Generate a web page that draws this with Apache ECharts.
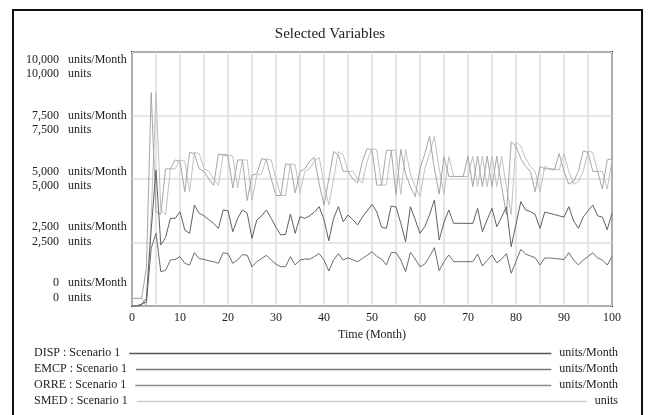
<!DOCTYPE html>
<html><head><meta charset="utf-8">
<script src="https://cdn.jsdelivr.net/npm/echarts@6/dist/echarts.min.js"></script>
<style>html,body{margin:0;padding:0;background:#fff}#c{width:649px;height:415px}</style>
</head><body><div id="c"></div>
<script>
const chartTitle = 'Selected Variables';
const xAxisName = 'Time (Month)';
const months = []; for (let t = 0; t <= 100; t++) months.push(t);
const xTickLabels = [0, 10, 20, 30, 40, 50, 60, 70, 80, 90, 100];
const yTickValues = [0, 2500, 5000, 7500, 10000];
const seriesNames = ['DISP', 'EMCP', 'ORRE', 'SMED'];
const seriesUnits = ['units/Month', 'units/Month', 'units/Month', 'units'];
const scenario = 'Scenario 1';

const DISP = [0,0,50,300,3000,5350,2400,2700,3450,3450,3713,2990,2860,3976,3648,3550,3400,3250,3057,3780,3750,2926,3450,3780,3650,2664,3385,3550,3780,3450,3100,2795,2820,3622,2860,3517,3450,3550,3700,3910,3400,2571,3450,3910,3320,3580,3400,3190,3500,3750,4000,3700,3100,3057,3937,3900,3255,2530,3910,3400,2860,3123,3600,4173,2598,3300,3780,3255,3255,3255,3255,3250,3845,2926,3400,3845,3123,3500,3900,2335,3220,4108,3780,3720,3600,3057,3700,3650,3600,3550,3500,3910,3350,3057,3500,3750,3975,3550,3500,3005,3650];
const EMCP = [0,0,80,150,2271,2860,1351,1400,1811,1837,1942,1680,1613,2100,1860,1837,1780,1745,1680,2100,2060,1680,1811,2020,2000,1548,1745,1870,2000,1811,1650,1548,1548,1942,1613,1811,1850,1837,1950,2060,1811,1378,1811,2060,1811,1900,1820,1745,1870,2000,2139,1950,1850,1614,2100,2100,1811,1352,2113,1850,1548,1650,1950,2297,1391,1750,2008,1745,1745,1745,1745,1745,2047,1575,1800,2008,1700,1850,2060,1286,1760,2230,2047,1970,1900,1614,1890,1890,1870,1850,1830,2100,1811,1614,1811,1950,2100,1890,1811,1614,1942];
const ORRE = [300,300,300,1500,8400,3700,3600,5400,5400,5750,5700,4500,6050,6000,5400,5300,5000,4750,5980,5950,5900,4650,5750,5750,4150,5150,5200,5800,5750,5000,4350,4350,5600,5550,4450,5300,5400,5700,5850,4800,3975,5000,6080,5950,5300,5300,5000,4850,5700,6200,6150,4760,4760,6130,6130,4400,6160,5200,4700,4300,5400,6000,6680,5400,4400,5880,5100,5100,5100,5100,5900,4700,5900,4700,5900,4700,5900,4700,3600,6460,6300,5800,5500,5300,4500,5500,5400,5400,5350,6000,5300,4800,4900,5300,6100,6050,5300,5300,4600,5750,5800];
const SMED = [300,300,300,0,3500,8400,3800,3600,5400,5400,5750,5700,4500,6050,6000,5400,5300,5000,4750,5980,5950,5900,4650,5750,5750,4150,5150,5200,5800,5750,5000,4350,4350,5600,5550,4450,5300,5400,5700,5850,4800,3975,5000,6080,5950,5300,5300,5000,4850,5700,6200,6150,4760,4760,6130,6130,4400,6160,5200,4700,4300,5400,6000,6680,5400,4400,5880,5100,5100,5100,5090,5900,4700,5900,4700,5900,4700,5900,4700,3600,6460,6300,5800,5500,5300,4500,5500,5400,5400,5350,6000,5300,4800,4900,5300,6100,6050,5300,5300,4600,5750];
const seriesData = [DISP, EMCP, ORRE, SMED];
const seriesColors = ['#606060', '#6c6c6c', '#a6a6a6', '#c0c0c0'];
const legendColors = ['#555555', '#777777', '#8c8c8c', '#cfcfcf'];

const FONT = '"Liberation Serif", "Times New Roman", serif';
const fmt = v => Number(v).toLocaleString('en-US');

const chart = echarts.init(document.getElementById('c'), null, {renderer: 'canvas'});

const cv = document.createElement('canvas').getContext('2d');
cv.font = '12px ' + FONT;

const legendRowsY = [353, 369, 385, 401];
const legendLeft = 34, legendRight = 618;
const graphics = [
  {type: 'rect', shape: {x: 13, y: 10, width: 629, height: 420}, style: {fill: 'none', stroke: '#111', lineWidth: 2}, silent: true}
];
seriesNames.forEach((n, i) => {
  const label = n + ' : ' + scenario;
  const lw = cv.measureText(label).width;
  const uw = cv.measureText(seriesUnits[i]).width;
  const y = legendRowsY[i];
  graphics.push({type: 'text', x: legendLeft, y: y, style: {text: label, font: '12px ' + FONT, fill: '#222', textVerticalAlign: 'middle', textAlign: 'left'}});
  graphics.push({type: 'line', shape: {x1: legendLeft + lw + 9, y1: y + 0.5, x2: legendRight - uw - 8, y2: y + 0.5}, style: {stroke: legendColors[i], lineWidth: 1.3}});
  graphics.push({type: 'text', x: legendRight, y: y, style: {text: seriesUnits[i], font: '12px ' + FONT, fill: '#222', textVerticalAlign: 'middle', textAlign: 'right'}});
});

const labelText = {fontFamily: FONT, fontSize: 12, color: '#222'};
const numAxis = gi => ({
  gridIndex: gi, type: 'value', position: 'left', offset: 0, min: 0, max: 10000, interval: 2500,
  axisLine: {show: false}, axisTick: {show: false}, splitLine: {show: false},
  axisLabel: Object.assign({margin: 73, align: 'right', showMinLabel: true, showMaxLabel: true,
    formatter: v => yTickValues.includes(v) ? fmt(v) : ''}, labelText)
});
const unitAxis = (gi, unit) => ({
  gridIndex: gi, type: 'value', position: 'left', offset: 0, min: 0, max: 10000, interval: 2500,
  axisLine: {show: false}, axisTick: {show: false}, splitLine: {show: false},
  axisLabel: Object.assign({margin: 64, align: 'left', showMinLabel: true, showMaxLabel: true,
    formatter: v => yTickValues.includes(v) ? unit : ''}, labelText)
});

const option = {
  animation: false,
  backgroundColor: '#fff',
  title: {text: chartTitle, left: 325, top: 22, textAlign: 'center',
    textStyle: {fontFamily: FONT, fontSize: 15, fontWeight: 'normal', color: '#222'}},
  grid: [
    {left: 132, top: 52, width: 480, height: 254, show: true, borderColor: '#222', borderWidth: 2, backgroundColor: 'transparent'},
    {left: 132, top: 60, width: 480, height: 223},
    {left: 132, top: 74, width: 480, height: 224}
  ],
  xAxis: [
    {gridIndex: 0, type: 'value', min: 0, max: 100, interval: 5,
      axisLine: {show: false}, axisTick: {show: false},
      axisLabel: Object.assign({margin: 6, formatter: v => xTickLabels.includes(v) ? String(v) : ''}, labelText),
      splitLine: {show: true, lineStyle: {color: '#dcdcdc', width: 1.5}},
      name: xAxisName, nameLocation: 'middle', nameGap: 22,
      nameTextStyle: labelText},
    {gridIndex: 1, type: 'value', min: 0, max: 100, show: false},
    {gridIndex: 2, type: 'value', min: 0, max: 100, show: false}
  ],
  yAxis: [
    {gridIndex: 0, type: 'value', min: 0, max: 10000, interval: 2500,
      axisLine: {show: false}, axisTick: {show: false}, axisLabel: {show: false},
      splitLine: {show: true, lineStyle: {color: '#dcdcdc', width: 1.5}}},
    numAxis(1), unitAxis(1, 'units/Month'),
    numAxis(2), unitAxis(2, 'units')
  ],
  graphic: graphics,
  series: [3, 2, 1, 0].map(i => ({
    name: seriesNames[i], type: 'line', xAxisIndex: 0, yAxisIndex: 0,
    showSymbol: false, symbol: 'none',
    data: months.map((t, k) => [t, seriesData[i][k]]),
    lineStyle: {color: seriesColors[i], width: 1}, itemStyle: {color: seriesColors[i]},
    z: 3 + (3 - i)
  }))
};
chart.setOption(option);
</script>
</body></html>
